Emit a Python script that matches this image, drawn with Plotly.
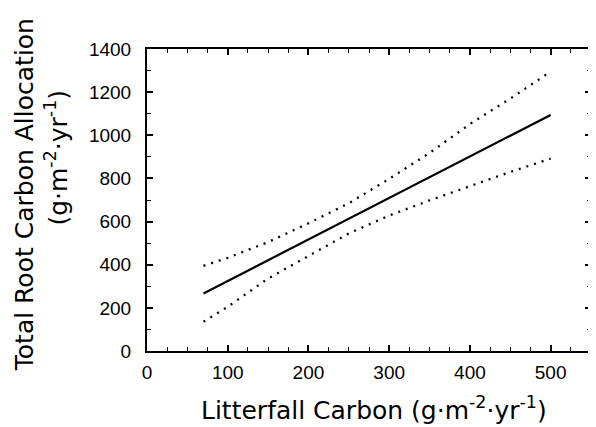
import plotly.graph_objects as go

# Data
litter_x = [70, 100, 150, 200, 250, 300, 350, 400, 450, 500]
fit_y = [267, 325, 421, 517, 613, 709, 805, 902, 998, 1094]
upper_y = [395, 432, 505, 592, 685, 798, 918, 1052, 1170, 1295]
lower_y = [136, 205, 336, 442, 545, 628, 698, 764, 830, 892]

x_ticks = [0, 100, 200, 300, 400, 500]
y_ticks = [0, 200, 400, 600, 800, 1000, 1200, 1400]

FONT = "Liberation Sans, Arial, Helvetica, sans-serif"
WIDE = "DejaVu Sans, Liberation Sans, sans-serif"

fig = go.Figure()
fig.add_trace(go.Scatter(x=litter_x, y=upper_y, mode="lines",
                         line=dict(color="black", width=2.3, dash="2px,6px"),
                         showlegend=False, hoverinfo="skip"))
fig.add_trace(go.Scatter(x=litter_x, y=lower_y, mode="lines",
                         line=dict(color="black", width=2.3, dash="2px,6px"),
                         showlegend=False, hoverinfo="skip"))
fig.add_trace(go.Scatter(x=litter_x, y=fit_y, mode="lines",
                         line=dict(color="black", width=2.2),
                         showlegend=False, hoverinfo="skip"))

axis_common = dict(
    showgrid=False, zeroline=False, automargin=False,
    showline=True, linecolor="black", linewidth=2, mirror="allticks",
    ticks="inside", ticklen=6, tickwidth=1.5, tickcolor="black",
    tickfont=dict(family=FONT, size=19, color="black"),
)

fig.update_xaxes(range=[0, 550], tickvals=x_ticks,
                 ticktext=[str(v) for v in x_ticks],
                 minor=dict(dtick=25, tick0=0, ticks="inside", ticklen=4,
                            tickwidth=1.2, tickcolor="black"),
                 ticklabelstandoff=3, **axis_common)
fig.update_yaxes(range=[0, 1400], tickvals=y_ticks,
                 ticktext=[str(v) for v in y_ticks],
                 minor=dict(dtick=100, tick0=0, ticks="inside", ticklen=4,
                            tickwidth=1.2, tickcolor="black"),
                 ticklabelstandoff=10, **axis_common)

fig.add_annotation(text="Litterfall Carbon (g·m<sup>-2</sup>·yr<sup>-1</sup>)",
                   xref="paper", yref="paper", x=0.512, y=-0.19,
                   xanchor="center", yanchor="middle", showarrow=False,
                   font=dict(family=WIDE, size=25, color="black"))
fig.add_annotation(text="Total Root Carbon Allocation",
                   xref="paper", yref="paper", x=-0.274, y=0.517,
                   xanchor="center", yanchor="middle", showarrow=False,
                   textangle=-90,
                   font=dict(family=WIDE, size=25, color="black"))
fig.add_annotation(text="(g·m<sup>-2</sup>·yr<sup>-1</sup>)",
                   xref="paper", yref="paper", x=-0.203, y=0.64,
                   xanchor="center", yanchor="middle", showarrow=False,
                   textangle=-90,
                   font=dict(family=WIDE, size=25, color="black"))

# The page body adds an 8px offset, so the figure is sized to fill the rest
fig.update_layout(
    width=588, height=419,
    margin=dict(l=139, r=5, t=41, b=76),
    paper_bgcolor="white", plot_bgcolor="white",
    showlegend=False,
)

fig.write_html("out.html")
